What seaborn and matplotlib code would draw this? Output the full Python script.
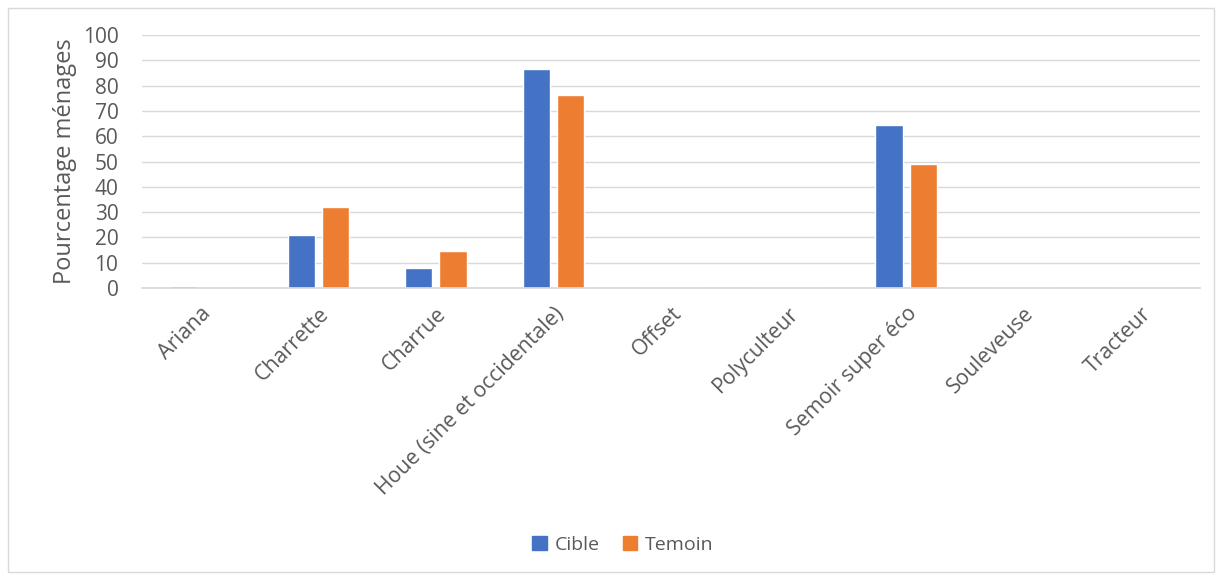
import matplotlib
matplotlib.use("Agg")
import matplotlib.pyplot as plt
import seaborn as sns
import pandas as pd
from matplotlib.patches import Rectangle

categories = ["Ariana", "Charrette", "Charrue", "Houe (sine et occidentale)", "Offset",
              "Polyculteur", "Semoir super éco", "Souleveuse", "Tracteur"]
cible = [0.8, 21.0, 7.9, 86.5, 0.0, 0.4, 64.4, 0.0, 0.0]
temoin = [0.4, 32.2, 14.6, 76.3, 0.0, 0.0, 48.9, 0.4, 0.4]
series = ["Cible", "Temoin"]
colors = ["#4472C4", "#ED7D31"]

df = pd.DataFrame({
    "cat": categories * 2,
    "val": cible + temoin,
    "serie": [series[0]] * len(categories) + [series[1]] * len(categories),
})

sns.set_theme(style="white")
plt.rcParams["font.family"] = ["Open Sans", "DejaVu Sans"]

fig = plt.figure(figsize=(12.22, 5.80), dpi=100)
ax = fig.add_axes([142 / 1222, 1 - 288 / 580, (1200 - 142) / 1222, (288 - 35) / 580])

sns.barplot(data=df, x="cat", y="val", hue="serie", palette=colors, ax=ax,
            width=0.58, gap=0.2, saturation=1, legend=False)

ax.set_ylim(0, 100)
ax.set_yticks(range(0, 101, 10))
ax.set_xlim(-0.5, len(categories) - 0.5)
ax.yaxis.grid(True, color="#D9D9D9", linewidth=1)
ax.set_axisbelow(True)
for s in ["top", "right", "left"]:
    ax.spines[s].set_visible(False)
ax.spines["bottom"].set_color("#D9D9D9")
ax.tick_params(axis="both", length=0, labelsize=15, labelcolor="#595959")
ax.tick_params(axis="y", pad=17)
ax.tick_params(axis="x", pad=11, labelsize=15.3)
ax.set_xticks(range(len(categories)))
ax.set_xticklabels(categories, rotation=45, ha="right", rotation_mode="anchor")
ax.set_xlabel("")
ax.set_ylabel("Pourcentage ménages", fontsize=17, color="#595959", labelpad=4)

handles = [Rectangle((0, 0), 1, 1, color=c) for c in colors]
fig.legend(handles, series, loc="center", bbox_to_anchor=(623 / 1222, 1 - 545 / 580),
           ncol=2, frameon=False, fontsize=14, labelcolor="#595959",
           handlelength=0.75, handleheight=0.75, handletextpad=0.4, columnspacing=1.2)

fig.patches.append(Rectangle((8 / 1222, 8 / 580), 1 - 16 / 1222, 1 - 16 / 580,
                             transform=fig.transFigure, fill=False,
                             edgecolor="#D9D9D9", linewidth=1))

fig.savefig("out.png", dpi=100)
